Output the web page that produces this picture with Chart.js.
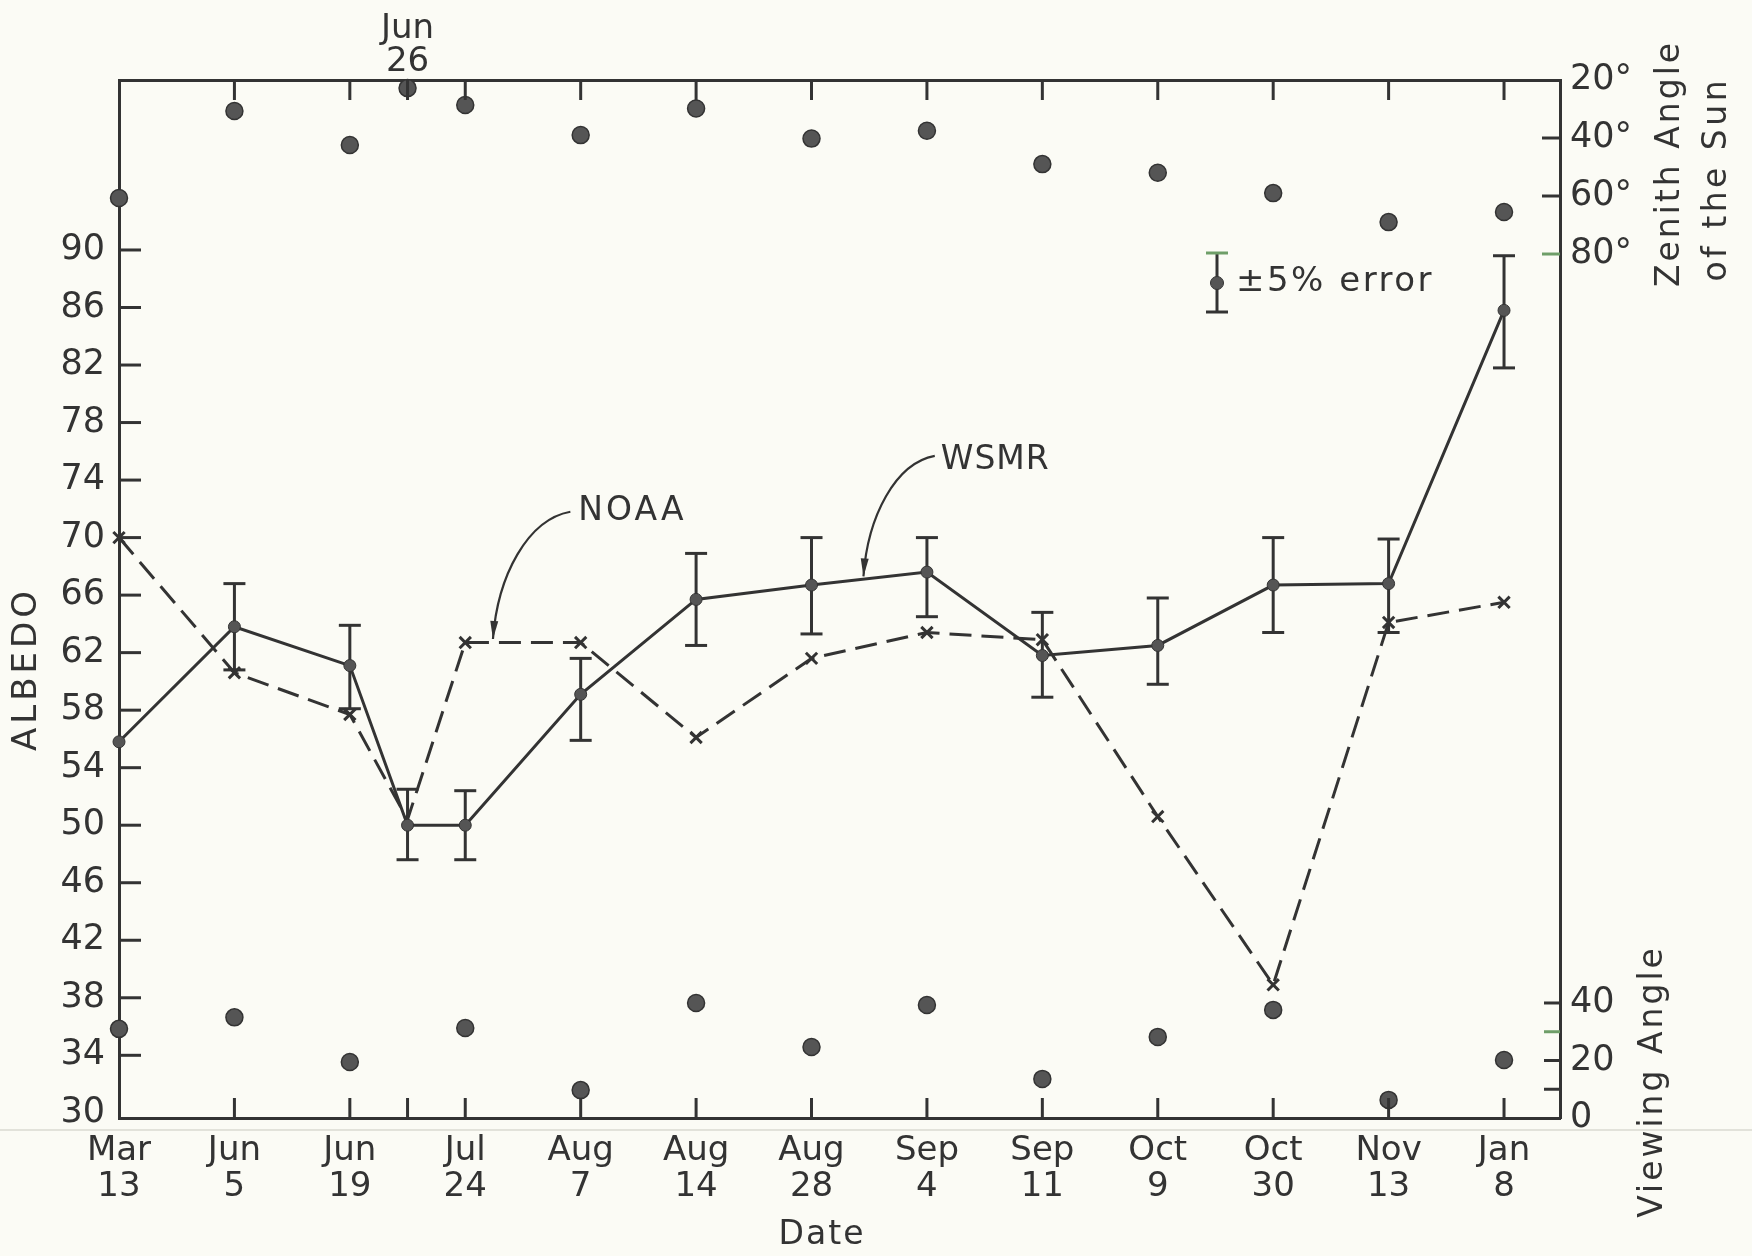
<!DOCTYPE html>
<html>
<head>
<meta charset="utf-8">
<script src="https://cdn.jsdelivr.net/npm/chart.js@4.4.0/dist/chart.umd.min.js"></script>
<style>
  html, body { margin: 0; padding: 0; background: #fbfbf5; }
  canvas { display: block; }
</style>
</head>
<body>
<canvas id="c" width="1752" height="1256"></canvas>
<script>
// ---- Dates on the horizontal axis (evenly spaced observation slots) ----
const dateMonths    = ['Mar', 'Jun', 'Jun', 'Jul', 'Aug', 'Aug', 'Aug', 'Sep', 'Sep', 'Oct', 'Oct', 'Nov', 'Jan'];
const dateDays      = ['13', '5', '19', '24', '7', '14', '28', '4', '11', '9', '30', '13', '8'];
const datePositions = [0, 1, 2, 3, 4, 5, 6, 7, 8, 9, 10, 11, 12];
// Jun 26 lies halfway between Jun 19 and Jul 24 and is labelled on the top edge
const extraMonth = 'Jun';
const extraDay = '26';
const extraPosition = 2.5;

// ---- Albedo series ----
const albedoPositions = [0, 1, 2, 2.5, 3, 4, 5, 6, 7, 8, 9, 10, 11, 12];
const wsmrAlbedo  = [55.8, 63.8, 61.1, 50.0, 50.0, 59.1, 65.7, 66.7, 67.6, 61.8, 62.5, 66.7, 66.8, 85.8];
const wsmrErrHigh = [null, 66.8, 63.9, 52.5, 52.4, 61.6, 68.9, 70.0, 70.0, 64.8, 65.8, 70.0, 69.9, 89.6];
const wsmrErrLow  = [null, 60.8, 58.1, 47.6, 47.6, 55.9, 62.5, 63.3, 64.5, 58.9, 59.8, 63.4, 63.4, 81.8];
const noaaAlbedo  = [70.0, 60.6, 57.7, 50.4, 62.7, 62.7, 56.1, 61.6, 63.4, 62.9, 50.6, 38.9, 64.1, 65.5];

// ---- Sun zenith angle (top dots, right upper scale) ----
const zenithPositions = [0, 1, 2, 2.5, 3, 4, 5, 6, 7, 8, 9, 10, 11, 12];
const zenithAngle     = [60.7, 30.7, 42.4, 22.8, 28.6, 39.0, 29.8, 40.2, 37.5, 49.0, 52.0, 59.0, 69.0, 65.5];

// ---- Viewing angle (bottom dots, right lower scale) ----
const viewingPositions = [0, 1, 2, 3, 4, 5, 6, 7, 8, 9, 10, 11, 12];
const viewingAngle     = [31.0, 35.0, 19.5, 31.3, 9.7, 40.0, 24.7, 39.3, 13.6, 28.2, 37.6, 6.3, 20.2];

// ---- Tick values ----
const albedoTicks       = [30, 34, 38, 42, 46, 50, 54, 58, 62, 66, 70, 74, 78, 82, 86, 90];
const zenithTicks       = [20, 40, 60, 80];
const viewingTicks      = [0, 20, 40];
const viewingMinorTicks = [10, 30];

const INK = '#333333';
const DOT = '#555555';
const TINT = '#6e9e68';
const PAPER = '#fbfbf5';
const FONT = "'DejaVu Sans', 'Liberation Sans', sans-serif";
const TICK_SIZE = 35;

function line(ctx, x1, y1, x2, y2) {
  ctx.beginPath(); ctx.moveTo(x1, y1); ctx.lineTo(x2, y2); ctx.stroke();
}

// widest label of a tick set, used to keep both right-hand scales' labels left-aligned
function widestLabel(labels) {
  const m = document.createElement('canvas').getContext('2d');
  m.font = TICK_SIZE + 'px ' + FONT;
  return Math.max(...labels.map(t => m.measureText(t).width));
}
const zenithLabel = v => v + '\u00B0';
const zenithWidest = widestLabel(zenithTicks.map(zenithLabel));
const viewingWidest = widestLabel(viewingTicks.map(String));

function spacedText(ctx, text, x, y, size, spacing, align, angle) {
  ctx.save();
  ctx.translate(x, y);
  if (angle) ctx.rotate(angle);
  ctx.font = size + 'px ' + FONT;
  ctx.fillStyle = INK;
  ctx.textBaseline = 'middle';
  ctx.textAlign = align || 'left';
  ctx.letterSpacing = spacing + 'px';
  ctx.fillText(text, align === 'center' ? spacing / 2 : 0, 0);
  ctx.restore();
}

// Curved leader from a text label down to a line, ending in a slim arrowhead
function leader(ctx, sx, sy, tx, ty) {
  const c1x = sx - 0.55 * (sx - tx), c1y = sy + 0.06 * (ty - sy);
  const c2x = tx + 0.06 * (sx - tx), c2y = ty - 0.5 * (ty - sy);
  ctx.save();
  ctx.strokeStyle = INK; ctx.fillStyle = INK; ctx.lineWidth = 2.2;
  ctx.beginPath(); ctx.moveTo(sx, sy); ctx.bezierCurveTo(c1x, c1y, c2x, c2y, tx, ty); ctx.stroke();
  const ang = Math.atan2(ty - c2y, tx - c2x);
  const L = 18, W = 4;
  ctx.beginPath();
  ctx.moveTo(tx, ty);
  ctx.lineTo(tx - L * Math.cos(ang) + W * Math.sin(ang), ty - L * Math.sin(ang) - W * Math.cos(ang));
  ctx.lineTo(tx - L * Math.cos(ang) - W * Math.sin(ang), ty - L * Math.sin(ang) + W * Math.cos(ang));
  ctx.closePath(); ctx.fill();
  ctx.restore();
}

const decorations = {
  id: 'decorations',
  beforeDraw(c) {
    const ctx = c.ctx;
    ctx.save();
    ctx.fillStyle = PAPER;
    ctx.fillRect(0, 0, c.width, c.height);
    ctx.strokeStyle = 'rgba(205,205,195,0.55)';
    ctx.lineWidth = 2;
    line(ctx, 0, 1130, c.width, 1130);
    ctx.restore();
  },
  beforeDatasetsDraw(c) {
    // WSMR error bars
    const ctx = c.ctx, xs = c.scales.x, ys = c.scales.y;
    ctx.save();
    ctx.strokeStyle = INK; ctx.lineWidth = 3;
    albedoPositions.forEach((p, i) => {
      if (wsmrErrHigh[i] == null) return;
      const px = xs.getPixelForValue(p);
      const top = ys.getPixelForValue(wsmrErrHigh[i]);
      const bot = ys.getPixelForValue(wsmrErrLow[i]);
      line(ctx, px, top, px, bot);
      line(ctx, px - 11, top, px + 11, top);
      line(ctx, px - 11, bot, px + 11, bot);
    });
    ctx.restore();
  },
  afterDraw(c) {
    const ctx = c.ctx, a = c.chartArea;
    const xs = c.scales.x, ys = c.scales.y, yz = c.scales.yZen, yv = c.scales.yView;
    ctx.save();
    ctx.strokeStyle = INK; ctx.lineWidth = 3;

    // inward tick marks on all four sides
    const edgeTicks = datePositions.slice(1).concat([extraPosition]);
    edgeTicks.forEach(v => {
      const px = xs.getPixelForValue(v);
      line(ctx, px, a.top, px, a.top + 20);
      line(ctx, px, a.bottom, px, a.bottom - 20);
    });
    albedoTicks.slice(1).forEach(v => {
      const py = ys.getPixelForValue(v);
      line(ctx, a.left, py, a.left + 22, py);
    });
    zenithTicks.slice(1).forEach(v => {
      const py = yz.getPixelForValue(v);
      ctx.strokeStyle = v === 80 ? TINT : INK;
      line(ctx, a.right - 18, py, a.right, py);
    });
    viewingTicks.slice(1).concat(viewingMinorTicks).forEach(v => {
      const py = yv.getPixelForValue(v);
      ctx.strokeStyle = v === 30 ? TINT : INK;
      line(ctx, a.right - 16, py, a.right, py);
    });
    ctx.restore();

    // axis titles
    spacedText(ctx, 'ALBEDO', 27, 671, 34, 4, 'center', -Math.PI / 2);
    spacedText(ctx, 'Date', 821, 1235, 33, 2, 'center');
    spacedText(ctx, 'Zenith Angle', 1670, 165, 33, 3, 'center', -Math.PI / 2);
    spacedText(ctx, 'of the Sun', 1717, 181, 33, 3.5, 'center', -Math.PI / 2);
    spacedText(ctx, 'Viewing Angle', 1653, 1083, 33, 3, 'center', -Math.PI / 2);

    // series call-outs
    const nLx = xs.getPixelForValue(3.98), nLy = ys.getPixelForValue(71.8);
    spacedText(ctx, 'NOAA', nLx, nLy, 33, 3, 'left');
    leader(ctx, nLx - 8, nLy, xs.getPixelForValue(3.24), ys.getPixelForValue(62.95));
    const wLx = xs.getPixelForValue(7.12), wLy = ys.getPixelForValue(75.4);
    spacedText(ctx, 'WSMR', wLx, wLy, 33, 1, 'left');
    leader(ctx, wLx - 6, wLy - 4, xs.getPixelForValue(6.45), ys.getPixelForValue(67.3));

    // error-bar key
    ctx.save();
    ctx.lineWidth = 3;
    ctx.strokeStyle = INK;
    line(ctx, 1217, 253, 1217, 312);
    line(ctx, 1206, 312, 1228, 312);
    ctx.strokeStyle = TINT;
    line(ctx, 1206, 253, 1228, 253);
    ctx.fillStyle = DOT; ctx.strokeStyle = INK; ctx.lineWidth = 1;
    ctx.beginPath(); ctx.arc(1217, 283, 6.5, 0, Math.PI * 2); ctx.fill(); ctx.stroke();
    ctx.restore();
    spacedText(ctx, '\u00B15% error', 1236, 282, 34, 2.5, 'left');
  }
};

function fixTicks(values) {
  return scale => { scale.ticks = values.map(v => ({ value: v })); };
}

// right-hand scales take no room of their own; the layout padding reserves it
function flushRight(scale) {
  scale.width = 0;
  scale.paddingTop = 0;
  scale.paddingBottom = 0;
  scale.paddingLeft = 0;
  scale.paddingRight = 0;
}

const tickFont = { family: FONT, size: TICK_SIZE };
const noGrid = { display: false, drawTicks: false, tickLength: 0 };
const frameBorder = { display: true, color: INK, width: 3 };

new Chart(document.getElementById('c'), {
  type: 'line',
  data: {
    datasets: [
      {
        label: 'WSMR',
        data: albedoPositions.map((x, i) => ({ x, y: wsmrAlbedo[i] })),
        xAxisID: 'x', yAxisID: 'y',
        borderColor: INK, borderWidth: 3, tension: 0,
        pointRadius: 6, pointBackgroundColor: DOT, pointBorderColor: INK, pointBorderWidth: 1,
        clip: false
      },
      {
        label: 'NOAA',
        data: albedoPositions.map((x, i) => ({ x, y: noaaAlbedo[i] })),
        xAxisID: 'x', yAxisID: 'y',
        borderColor: INK, borderWidth: 3, borderDash: [22, 10], tension: 0,
        pointStyle: 'crossRot',
        pointRadius: albedoPositions.map(p => (p === extraPosition ? 0 : 8)),
        pointBorderColor: INK, pointBorderWidth: 3,
        clip: false
      },
      {
        label: 'Zenith Angle of the Sun',
        data: zenithPositions.map((x, i) => ({ x, y: zenithAngle[i] })),
        xAxisID: 'x', yAxisID: 'yZen',
        showLine: false,
        pointRadius: 8.5, pointBackgroundColor: DOT, pointBorderColor: INK, pointBorderWidth: 1.5,
        clip: false
      },
      {
        label: 'Viewing Angle',
        data: viewingPositions.map((x, i) => ({ x, y: viewingAngle[i] })),
        xAxisID: 'x', yAxisID: 'yView',
        showLine: false,
        pointRadius: 8.5, pointBackgroundColor: DOT, pointBorderColor: INK, pointBorderWidth: 1.5,
        clip: false
      }
    ]
  },
  options: {
    responsive: false,
    animation: false,
    devicePixelRatio: 1,
    layout: { padding: { left: 0, right: 192, top: 0, bottom: 0 } },
    plugins: { legend: { display: false }, tooltip: { enabled: false } },
    scales: {
      x: {
        type: 'linear', position: 'bottom', min: 0, max: 12.485,
        afterFit: s => { s.height = 138; },
        afterBuildTicks: fixTicks(datePositions),
        ticks: {
          autoSkip: false, maxRotation: 0, minRotation: 0, padding: 15, color: INK,
          font: { family: FONT, size: 34, lineHeight: 1.06 },
          callback: v => {
            const i = datePositions.indexOf(v);
            return i < 0 ? '' : [dateMonths[i], dateDays[i]];
          }
        },
        grid: noGrid,
        border: frameBorder
      },
      xTop: {
        type: 'linear', position: 'top', min: 0, max: 12.485,
        afterFit: s => { s.height = 80; },
        afterBuildTicks: fixTicks([extraPosition]),
        ticks: {
          autoSkip: false, maxRotation: 0, minRotation: 0, padding: 1, color: INK,
          font: { family: FONT, size: 34, lineHeight: 0.97 },
          callback: () => [extraMonth, extraDay]
        },
        grid: noGrid,
        border: frameBorder
      },
      y: {
        type: 'linear', position: 'left', min: 29.64, max: 101.82,
        afterFit: s => { s.width = 119; },
        afterBuildTicks: fixTicks(albedoTicks),
        ticks: { autoSkip: false, padding: 14, color: INK, font: tickFont },
        grid: noGrid,
        border: frameBorder
      },
      yView: {
        type: 'linear', position: 'right', min: 0, max: 361,
        afterFit: flushRight,
        afterBuildTicks: fixTicks(viewingTicks),
        ticks: {
          autoSkip: false, mirror: true, crossAlign: 'far',
          padding: 10 + viewingWidest, color: INK, font: tickFont
        },
        grid: noGrid,
        border: frameBorder
      },
      yZen: {
        type: 'linear', position: 'right', reverse: true, min: 20, max: 377.9,
        afterFit: flushRight,
        afterBuildTicks: fixTicks(zenithTicks),
        ticks: {
          autoSkip: false, mirror: true, crossAlign: 'far',
          padding: 10 + zenithWidest, color: INK, font: tickFont, callback: zenithLabel
        },
        grid: noGrid,
        border: { display: false }
      }
    }
  },
  plugins: [decorations]
});
</script>
</body>
</html>
